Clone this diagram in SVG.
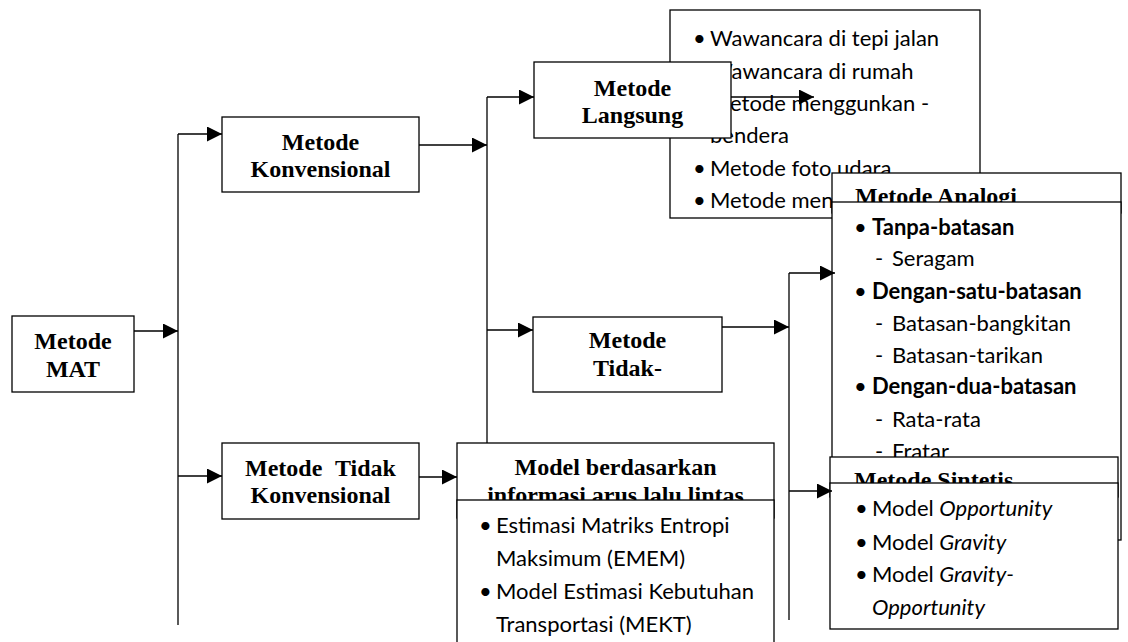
<svg xmlns="http://www.w3.org/2000/svg" width="1128" height="642" viewBox="0 0 1128 642">
<style>
.box{fill:#fff;stroke:#000;stroke-width:1.3}
.ttl{font-family:"Liberation Serif","Times New Roman",serif;font-weight:bold;font-size:24px;fill:#000}
.c{text-anchor:middle}
.lst{font-family:Lato,"Liberation Sans",sans-serif;font-size:22px;fill:#000}
.b{font-weight:bold}
.i{font-style:italic}
.ln{stroke:#000;stroke-width:1.3;fill:none}
.ar{marker-end:url(#ah)}
</style>
<defs>
<marker id="ah" viewBox="0 0 15 15" refX="15" refY="7.5" markerWidth="15" markerHeight="15" markerUnits="userSpaceOnUse" orient="auto">
<path d="M0,0 L15,7.5 L0,15 Z" fill="#000"/>
</marker>
</defs>
<rect width="1128" height="642" fill="#fff"/>

<g id="node-mat">
<rect class="box" x="12" y="316" width="122" height="76"/>
<text class="ttl c" x="73" y="349">Metode</text>
<text class="ttl c" x="73" y="377">MAT</text>
</g>

<g id="node-konvensional">
<rect class="box" x="222" y="117" width="197" height="75"/>
<text class="ttl c" x="320.5" y="150">Metode</text>
<text class="ttl c" x="320.5" y="177">Konvensional</text>
</g>

<g id="node-tidak-konvensional">
<rect class="box" x="222" y="443" width="197" height="76"/>
<text class="ttl" x="245" y="476">Metode</text>
<text class="ttl" x="335" y="476">Tidak</text>
<text class="ttl c" x="320.5" y="503">Konvensional</text>
</g>

<g id="node-langsung-list">
<rect class="box" x="670" y="10" width="310" height="208"/>
<text class="lst"><tspan x="693" y="46">•</tspan><tspan x="710" y="46">Wawancara di tepi jalan</tspan></text>
<text class="lst"><tspan x="693" y="79">•</tspan><tspan x="710" y="79">Wawancara di rumah</tspan></text>
<text class="lst"><tspan x="693" y="111">•</tspan><tspan x="710" y="111">Metode menggunkan -</tspan></text>
<text class="lst" x="710" y="143">bendera</text>
<text class="lst"><tspan x="693" y="176">•</tspan><tspan x="710" y="176">Metode foto udara</tspan></text>
<text class="lst"><tspan x="693" y="208">•</tspan><tspan x="710" y="208">Metode men</tspan></text>
</g>

<g id="node-langsung">
<rect class="box" x="534" y="62" width="197" height="76"/>
<text class="ttl c" x="632.5" y="96">Metode</text>
<text class="ttl c" x="632.5" y="123">Langsung</text>
</g>

<g id="node-tidak-langsung">
<rect class="box" x="533" y="317" width="189" height="75"/>
<text class="ttl c" x="627.5" y="348">Metode</text>
<text class="ttl c" x="627.5" y="376">Tidak-</text>
</g>

<g id="node-analogi">
<rect class="box" x="832" y="173" width="289" height="40"/>
<text class="ttl" x="855" y="204">Metode Analogi</text>
<rect class="box" x="832" y="202" width="289" height="338"/>
<text class="lst"><tspan x="854" y="235">•</tspan><tspan class="b" x="872" y="235">Tanpa-batasan</tspan></text>
<text class="lst"><tspan x="875" y="266">-</tspan><tspan x="892" y="266">Seragam</tspan></text>
<text class="lst"><tspan x="854" y="299">•</tspan><tspan class="b" x="872" y="299">Dengan-satu-batasan</tspan></text>
<text class="lst"><tspan x="875" y="331">-</tspan><tspan x="892" y="331">Batasan-bangkitan</tspan></text>
<text class="lst"><tspan x="875" y="363">-</tspan><tspan x="892" y="363">Batasan-tarikan</tspan></text>
<text class="lst"><tspan x="854" y="394">•</tspan><tspan class="b" x="872" y="394">Dengan-dua-batasan</tspan></text>
<text class="lst"><tspan x="875" y="427">-</tspan><tspan x="892" y="427">Rata-rata</tspan></text>
<text class="lst"><tspan x="875" y="459">-</tspan><tspan x="892" y="459">Fratar</tspan></text>
</g>

<g id="node-sintetis">
<rect class="box" x="830" y="457" width="288" height="40"/>
<text class="ttl" x="854" y="488">Metode Sintetis</text>
<rect class="box" x="830" y="483" width="288" height="146"/>
<text class="lst"><tspan x="855" y="516">•</tspan><tspan x="872" y="516">Model <tspan class="i">Opportunity</tspan></tspan></text>
<text class="lst"><tspan x="855" y="550">•</tspan><tspan x="872" y="550">Model <tspan class="i">Gravity</tspan></tspan></text>
<text class="lst"><tspan x="855" y="582">•</tspan><tspan x="872" y="582">Model <tspan class="i">Gravity-</tspan></tspan></text>
<text class="lst i" x="872" y="615">Opportunity</text>
</g>

<g id="node-model">
<rect class="box" x="457" y="443" width="317" height="75"/>
<text class="ttl c" x="615.5" y="475">Model berdasarkan</text>
<text class="ttl c" x="615.5" y="503">informasi arus lalu lintas</text>
<rect class="box" x="457" y="500" width="317" height="160"/>
<text class="lst"><tspan x="479" y="533">•</tspan><tspan x="496" y="533">Estimasi Matriks Entropi</tspan></text>
<text class="lst" x="496" y="566">Maksimum (EMEM)</text>
<text class="lst"><tspan x="479" y="599">•</tspan><tspan x="496" y="599">Model Estimasi Kebutuhan</tspan></text>
<text class="lst" x="496" y="632">Transportasi (MEKT)</text>
</g>

<g id="connectors">
<line class="ln ar" x1="134" y1="331" x2="178" y2="331"/>
<line class="ln" x1="178" y1="134" x2="178" y2="625"/>
<line class="ln ar" x1="178" y1="134" x2="222" y2="134"/>
<line class="ln ar" x1="178" y1="476" x2="222" y2="476"/>
<line class="ln ar" x1="419" y1="145" x2="487" y2="145"/>
<line class="ln" x1="487" y1="97" x2="487" y2="443"/>
<line class="ln ar" x1="487" y1="97" x2="534" y2="97"/>
<line class="ln ar" x1="487" y1="330" x2="533" y2="330"/>
<line class="ln ar" x1="731" y1="97" x2="814" y2="97"/>
<line class="ln ar" x1="722" y1="327" x2="789" y2="327"/>
<line class="ln" x1="789" y1="273" x2="789" y2="620"/>
<line class="ln ar" x1="789" y1="273" x2="835" y2="273"/>
<line class="ln ar" x1="789" y1="491" x2="832" y2="491"/>
<line class="ln ar" x1="419" y1="477" x2="457" y2="477"/>
</g>
</svg>
